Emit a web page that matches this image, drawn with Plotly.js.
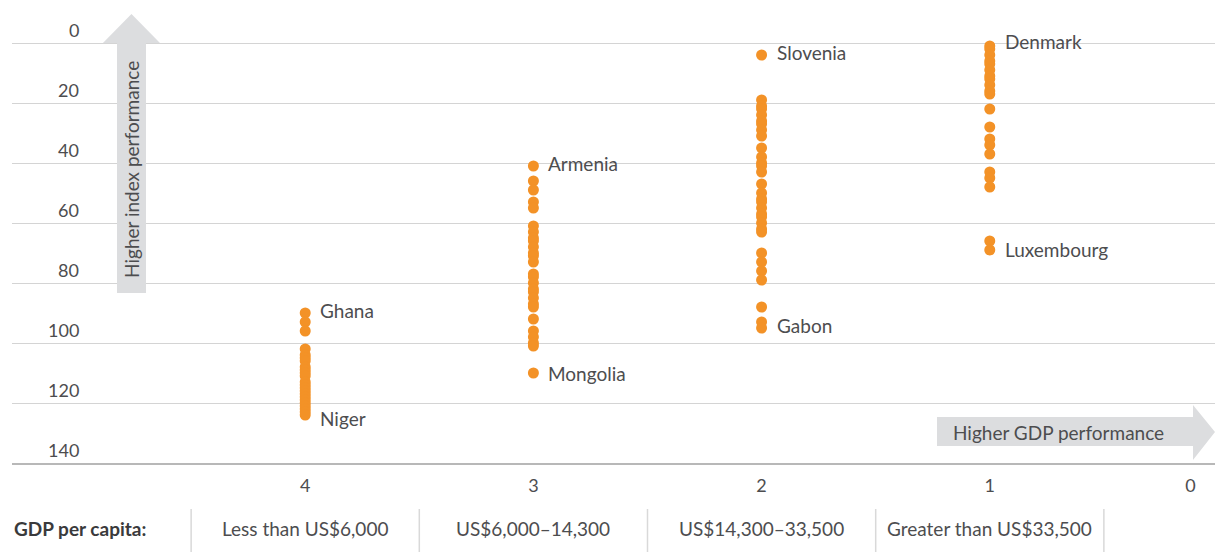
<!DOCTYPE html>
<html>
<head>
<meta charset="utf-8">
<script src="https://cdn.plot.ly/plotly-3.0.1.min.js"></script>
<style>
  html, body { margin: 0; padding: 0; background: #ffffff; }
  #chart { width: 1215px; height: 552px; }
</style>
</head>
<body>
<div id="chart"></div>
<script>
// ---- Data (index rank, grouped by GDP per capita group) ----
const group4Ranks = [90, 93, 96, 102, 104, 105, 106, 108, 109, 110, 111, 113, 114, 115, 116, 117, 118, 119, 120, 121, 122, 123, 124];
const group3Ranks = [41, 46, 49, 53, 55, 61, 63, 65, 66, 68, 70, 71, 73, 77, 78, 80, 82, 83, 85, 87, 88, 92, 96, 98, 100, 101, 110];
const group2Ranks = [4, 19, 21, 22, 24, 26, 27, 29, 31, 35, 38, 40, 41, 43, 47, 50, 52, 53, 55, 57, 58, 60, 62, 63, 70, 73, 76, 79, 88, 93, 95];
const group1Ranks = [1, 2, 4, 6, 7, 9, 11, 12, 14, 16, 17, 22, 28, 32, 34, 37, 43, 45, 48, 66, 69];

const groupIds = [4, 3, 2, 1];
const groupLabels = ["Less than US$6,000", "US$6,000\u201314,300", "US$14,300\u201333,500", "Greater than US$33,500"];

const xTickVals = [4, 3, 2, 1, 0.12];
const xTickText = ["4", "3", "2", "1", "0"];
const yTickVals = [0, 20, 40, 60, 80, 100, 120, 140];

const countryNames = ["Ghana", "Niger", "Armenia", "Mongolia", "Slovenia", "Gabon", "Denmark", "Luxembourg"];
const countryGroup = [4, 4, 3, 3, 2, 2, 1, 1];
const countryRank  = [90, 124, 41, 110, 4, 95, 1, 69];

const separatorX = [4.5, 3.5, 2.5, 1.5, 0.5];

// ---- Styles ----
const ORANGE = "#F39227";
const TEXT = "#4d4d4f";
const FONT = "Lato, 'Open Sans', sans-serif";
const labelYShift = [3, -3, 3, 0, 3, 3, 5, 1];

const allGroups = [group4Ranks, group3Ranks, group2Ranks, group1Ranks];
const traces = allGroups.map((ranks, i) => ({
  type: "scatter",
  mode: "markers",
  x: ranks.map(() => groupIds[i]),
  y: ranks,
  marker: { color: ORANGE, size: 11, line: { width: 0 } },
  hoverinfo: "x+y",
  showlegend: false
}));

const annotations = [];
// y tick labels (sit above their gridlines)
yTickVals.forEach(v => annotations.push({
  xref: "paper", yref: "y", x: 0.0575, y: v, xanchor: "right", yanchor: "bottom",
  yshift: 0, text: String(v), showarrow: false,
  font: { family: FONT, size: 18, color: TEXT }
}));
// country labels
countryNames.forEach((n, i) => annotations.push({
  xref: "x", yref: "y", x: countryGroup[i], y: countryRank[i], xanchor: "left", yanchor: "middle",
  xshift: 13, yshift: labelYShift[i], text: n, showarrow: false,
  font: { family: FONT, size: 19, color: TEXT }
}));
// GDP band labels
groupLabels.forEach((t, i) => annotations.push({
  xref: "x", yref: "paper", x: groupIds[i], y: -0.1435, xanchor: "center", yanchor: "middle",
  text: t, showarrow: false, font: { family: FONT, size: 19, color: TEXT }
}));
annotations.push({
  xref: "paper", yref: "paper", x: 0.0, y: -0.1435, xanchor: "left", yanchor: "middle",
  text: "<b>GDP per capita:</b>", showarrow: false, font: { family: FONT, size: 19, color: "#3a3a3c" }
});
// arrow texts
annotations.push({
  xref: "paper", yref: "paper", x: 0.0993, y: 0.648, xanchor: "center", yanchor: "middle",
  text: "Higher index performance", textangle: -90, showarrow: false,
  font: { family: FONT, size: 19, color: TEXT }
});
annotations.push({
  xref: "paper", yref: "paper", x: 0.8700, y: 0.0684, xanchor: "center", yanchor: "middle",
  text: "Higher GDP performance", showarrow: false,
  font: { family: FONT, size: 19, color: TEXT }
});

const shapes = [];
separatorX.forEach(sx => shapes.push({
  type: "line", xref: "x", yref: "paper", x0: sx, x1: sx, y0: -0.1015, y1: -0.2,
  line: { color: "#d9d9d9", width: 1.5 }
}));
shapes.push({
  type: "path", xref: "paper", yref: "paper", layer: "above",
  path: "M 0.0873,0.3753 L 0.0873,0.9272 L 0.0756,0.9272 L 0.0993,0.9912 L 0.1230,0.9272 L 0.1114,0.9272 L 0.1114,0.3753 Z",
  fillcolor: "#dcdddf", line: { width: 0 }
});
shapes.push({
  type: "path", xref: "paper", yref: "paper", layer: "above",
  path: "M 0.7689,0.0375 L 0.7689,0.1015 L 0.9817,0.1015 L 0.9817,0.1280 L 1.0,0.0684 L 0.9817,0.0066 L 0.9817,0.0375 Z",
  fillcolor: "#dcdddf", line: { width: 0 }
});

const layout = {
  width: 1215, height: 552,
  margin: { l: 12, r: 0, t: 10, b: 89 },
  paper_bgcolor: "#ffffff", plot_bgcolor: "#ffffff",
  font: { family: FONT, color: TEXT },
  showlegend: false,
  xaxis: {
    range: [5.285, 0.013], tickvals: xTickVals, ticktext: xTickText,
    showgrid: false, zeroline: false, showline: true, linecolor: "#b8b8b8", linewidth: 2,
    ticks: "", ticklabelstandoff: 5,
    tickfont: { family: FONT, size: 18, color: TEXT }, fixedrange: true
  },
  yaxis: {
    range: [140, -11], tickvals: yTickVals, showticklabels: false,
    showgrid: true, gridcolor: "#d4d4d4", gridwidth: 1, zeroline: false, showline: false,
    ticks: "", fixedrange: true
  },
  annotations: annotations,
  shapes: shapes
};

Plotly.newPlot("chart", traces, layout, { displayModeBar: false, staticPlot: true });
</script>
</body>
</html>
